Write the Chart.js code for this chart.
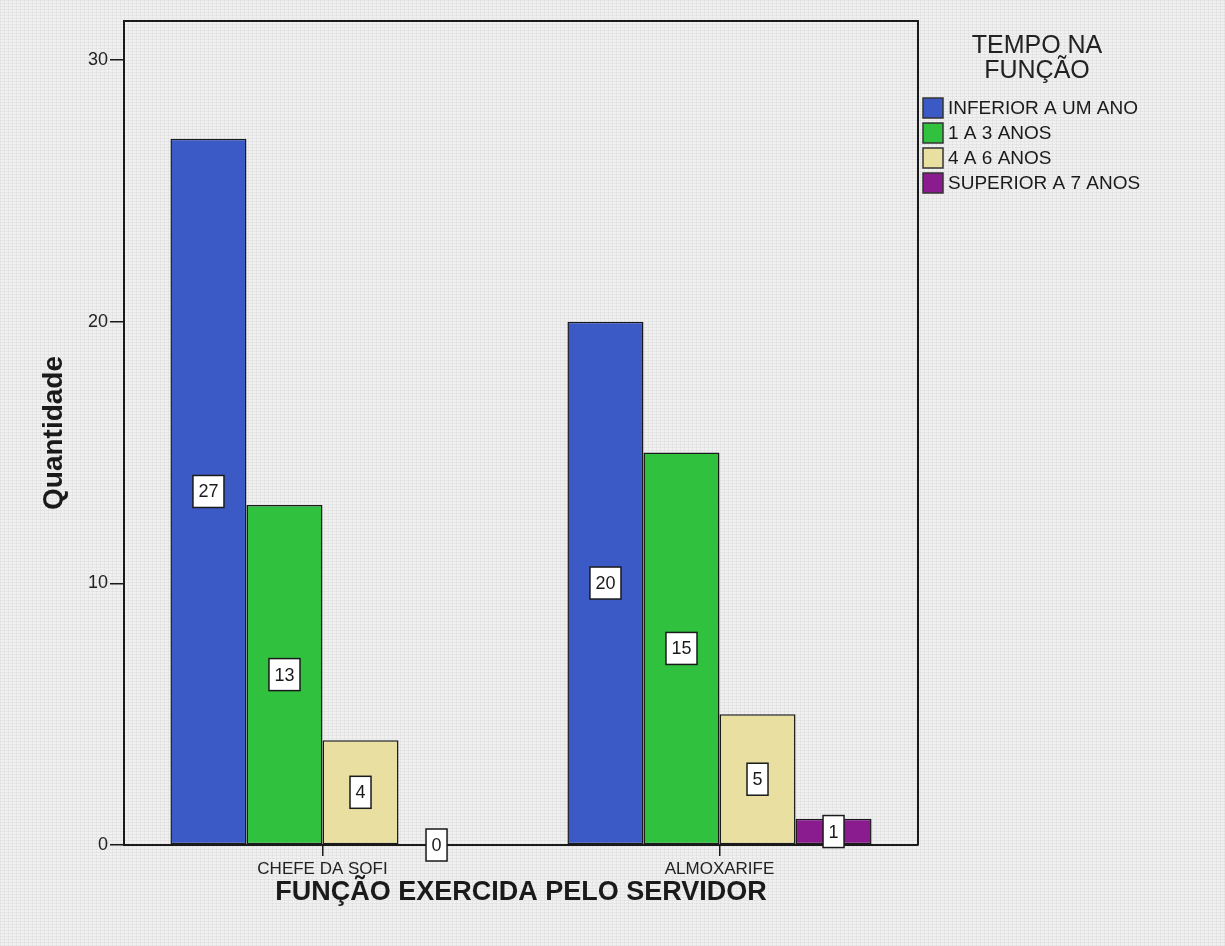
<!DOCTYPE html>
<html>
<head>
<meta charset="utf-8">
<script src="https://cdn.jsdelivr.net/npm/chart.js@4"></script>
<style>
  html, body { margin: 0; padding: 0; }
  body {
    width: 1225px; height: 946px; overflow: hidden;
    background-color: #f0f0f0;
    background-image:
      repeating-linear-gradient(0deg, rgba(0,0,0,0.045) 0 1px, transparent 1px 3px),
      repeating-linear-gradient(90deg, rgba(0,0,0,0.035) 0 1px, transparent 1px 4px);
  }
  #wrap { position: absolute; left: 0; top: 0; width: 1225px; height: 946px; }
</style>
</head>
<body>
<div id="wrap"><canvas id="c" width="1225" height="946"></canvas></div>
<script>
// ---- data ----
const categories = ['CHEFE DA SOFI', 'ALMOXARIFE'];
const seriesNames = ['INFERIOR A UM ANO', '1 A 3 ANOS', '4 A 6 ANOS', 'SUPERIOR A 7 ANOS'];
const inferiorUmAno = [27, 20];
const umATresAnos = [13, 15];
const quatroASeisAnos = [4, 5];
const superiorSeteAnos = [0, 1];
const seriesColors = ['#3c5ac6', '#30c23f', '#e8dfa0', '#8b1c90'];
const yTicks = [0, 10, 20, 30];
const legendTitle = ['TEMPO NA', 'FUNÇÃO'];
const xTitle = 'FUNÇÃO EXERCIDA PELO SERVIDOR';
const yTitle = 'Quantidade';

const FONT = '"Liberation Sans", Arial, sans-serif';
const seriesValues = [inferiorUmAno, umATresAnos, quatroASeisAnos, superiorSeteAnos];

const datasets = seriesNames.map((name, i) => ({
  label: name,
  data: seriesValues[i],
  backgroundColor: seriesColors[i],
  borderColor: '#1a1a1a',
  borderWidth: 1.5,
  borderSkipped: false,
  barPercentage: 1.0,
  categoryPercentage: 0.766
}));

const boxPlugin = {
  id: 'boxPlugin',
  afterDatasetsDraw(chart) {
    const {ctx, chartArea: a} = chart;
    ctx.save();
    ctx.strokeStyle = '#1a1a1a';
    ctx.lineWidth = 2;
    ctx.beginPath();
    ctx.moveTo(a.left, a.top);
    ctx.lineTo(a.right, a.top);
    ctx.lineTo(a.right, a.bottom);
    ctx.stroke();
    const y0 = chart.scales.y.getPixelForValue(0);
    ctx.beginPath();
    ctx.moveTo(a.left, y0);
    ctx.lineTo(a.right, y0);
    ctx.stroke();
    ctx.restore();
  }
};

const valueLabels = {
  id: 'valueLabels',
  afterDatasetsDraw(chart) {
    const {ctx} = chart;
    ctx.save();
    ctx.font = '18px ' + FONT;
    ctx.textAlign = 'center';
    ctx.textBaseline = 'middle';
    chart.data.datasets.forEach((ds, di) => {
      const meta = chart.getDatasetMeta(di);
      meta.data.forEach((el, i) => {
        const v = ds.data[i];
        const txt = String(v);
        const tw = ctx.measureText(txt).width;
        const w = tw + 11, h = 32;
        const cx = el.x, cy = (el.y + el.base) / 2;
        ctx.fillStyle = '#ffffff';
        ctx.fillRect(cx - w / 2, cy - h / 2, w, h);
        ctx.strokeStyle = '#1a1a1a';
        ctx.lineWidth = 1.5;
        ctx.strokeRect(cx - w / 2, cy - h / 2, w, h);
        ctx.fillStyle = '#1a1a1a';
        ctx.fillText(txt, cx, cy + 1);
      });
    });
    ctx.restore();
  }
};

const customLegend = {
  id: 'customLegend',
  afterDraw(chart) {
    const {ctx, chartArea: a} = chart;
    ctx.save();
    const cx = a.right + 119;
    ctx.fillStyle = '#222';
    ctx.font = '25px ' + FONT;
    ctx.textAlign = 'center';
    ctx.textBaseline = 'middle';
    legendTitle.forEach((t, i) => ctx.fillText(t, cx, a.top + 25 + i * 25));
    ctx.font = '19px ' + FONT;
    ctx.textAlign = 'left';
    chart.data.datasets.forEach((ds, i) => {
      const y = a.top + 87 + i * 25;
      const bx = a.right + 5;
      ctx.fillStyle = ds.backgroundColor;
      ctx.fillRect(bx, y - 10, 20, 20);
      ctx.strokeStyle = '#333';
      ctx.lineWidth = 1.5;
      ctx.strokeRect(bx, y - 10, 20, 20);
      ctx.fillStyle = '#1a1a1a';
      ctx.fillText(ds.label, bx + 25, y + 1);
    });
    ctx.restore();
  }
};

new Chart(document.getElementById('c'), {
  type: 'bar',
  data: { labels: categories, datasets },
  options: {
    responsive: false,
    animation: false,
    layout: { padding: { top: 21, right: 307, left: 37, bottom: 37 } },
    plugins: { legend: { display: false }, tooltip: { enabled: false } },
    scales: {
      x: {
        afterFit(scale) { scale.height = 64; },
        grid: { offset: false, drawOnChartArea: false, drawTicks: true, tickLength: 11, color: '#1a1a1a', lineWidth: 1.5 },
        border: { display: true, color: '#1a1a1a', width: 2 },
        ticks: { font: { family: FONT, size: 17 }, color: '#222', padding: 3, maxRotation: 0 },
        title: { display: true, text: xTitle, font: { family: FONT, size: 27, weight: 'bold' }, color: '#1a1a1a', padding: { top: 0, bottom: 0 } }
      },
      y: {
        min: 0,
        max: 31.5,
        afterFit(scale) { scale.width = 87; },
        afterBuildTicks(scale) { scale.ticks = yTicks.map(v => ({ value: v })); },
        grid: { drawOnChartArea: false, drawTicks: true, tickLength: 14, color: '#1a1a1a', lineWidth: 1.5 },
        border: { display: true, color: '#1a1a1a', width: 2 },
        ticks: { font: { family: FONT, size: 18 }, color: '#222', padding: 2 },
        title: { display: true, text: yTitle, font: { family: FONT, size: 28, weight: 'bold' }, color: '#1a1a1a', padding: { top: 0, bottom: 0 } }
      }
    }
  },
  plugins: [boxPlugin, valueLabels, customLegend]
});
</script>
</body>
</html>
